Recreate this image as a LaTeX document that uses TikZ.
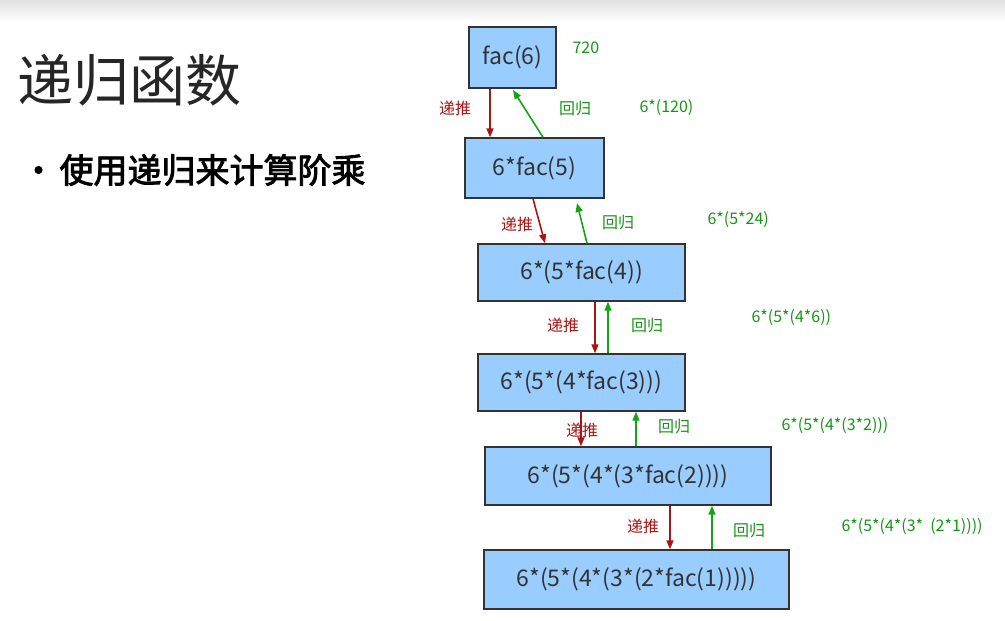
\documentclass[tikz,border=0pt]{standalone}
\usepackage{fontspec}
\usetikzlibrary{arrows.meta}
\setmainfont{Noto Sans CJK SC}
\newfontfamily\cjkb[FakeBold=2.5]{Noto Sans CJK SC}
\begin{document}
\begin{tikzpicture}[x=1pt,y=-1pt,
  bx/.style={draw=black!80,line width=1.4pt,fill={rgb,255:red,153;green,204;blue,255},minimum height=58pt,inner sep=0pt,text=black!80,font=\fontsize{23}{23}\selectfont},
  dn/.style={draw={rgb,255:red,170;green,20;blue,20},line width=1.6pt,-{Triangle[length=9pt,width=7pt]}},
  up/.style={draw={rgb,255:red,20;green,165;blue,20},line width=1.6pt,-{Triangle[length=9pt,width=7pt]}},
  rl/.style={text={rgb,255:red,170;green,20;blue,20},font=\fontsize{16}{16}\selectfont},
  gl/.style={text={rgb,255:red,20;green,150;blue,20},font=\fontsize{16}{16}\selectfont}]
\useasboundingbox (0,0) rectangle (1005,621);
\shade[top color=black!12,bottom color=white] (0,0) rectangle (1005,22);
\node[anchor=west,font=\fontsize{56}{56}\selectfont,text=black!85] (title) at (14,80) {递归函数};
\node[anchor=west,font=\fontsize{34}{34}\selectfont] (bul) at (18,170) {\cjkb •\hspace{4pt}使用递归来计算阶乘};
\node[bx,minimum width=87pt,minimum height=61pt] (b1) at (512.5,57.5) {fac(6)};
\node[bx,minimum width=139pt,minimum height=60pt] (b2) at (534.5,168) {6*fac(5)};
\node[bx,minimum width=207pt,minimum height=57pt] (b3) at (581.5,272.5) {6*(5*fac(4))};
\node[bx,minimum width=207pt,minimum height=57pt] (b4) at (581.5,382.5) {6*(5*(4*fac(3)))};
\node[bx,minimum width=286pt,minimum height=58pt] (b5) at (628,476) {6*(5*(4*(3*fac(2))))};
\node[bx,minimum width=305pt,minimum height=59pt] (b6) at (636.5,579.5) {6*(5*(4*(3*(2*fac(1)))))};
\draw[dn] (b1.south -| 490,0) -- (b2.north -| 490,0);
\draw[up] (b2.north -| 543,0) -- (513,90);
\draw[dn] (b2.south -| 533,0) -- (b3.north -| 545,0);
\draw[up] (b3.north -| 587,0) -- (577,203);
\draw[dn] (b3.south -| 595,0) -- (b4.north -| 595,0);
\draw[up] (b4.north -| 608,0) -- (b3.south -| 608,0);
\draw[dn] (b4.south -| 581,0) -- (b5.north -| 581,0);
\draw[up] (b5.north -| 636,0) -- (b4.south -| 636,0);
\draw[dn] (b5.south -| 670,0) -- (b6.north -| 670,0);
\draw[up] (b6.north -| 712,0) -- (b5.south -| 712,0);
\node[rl] (r1) at (455,108) {递推};
\node[rl] (r2) at (517,224) {递推};
\node[rl] (r3) at (563,325) {递推};
\node[rl] (r4) at (582,430) {递推};
\node[rl] (r5) at (643,526) {递推};
\node[gl] (g1) at (575,108) {回归};
\node[gl] (g2) at (618,222) {回归};
\node[gl] (g3) at (647,325) {回归};
\node[gl] (g4) at (674,426) {回归};
\node[gl] (g5) at (749,530) {回归};
\node[gl,anchor=west] (v0) at (569,48) {720};
\node[gl,anchor=west] (v1) at (636,108) {6*(120)};
\node[gl,anchor=west] (v2) at (704,220) {6*(5*24)};
\node[gl,anchor=west] (v3) at (748,318) {6*(5*(4*6))};
\node[gl,anchor=west] (v4) at (778,426) {6*(5*(4*(3*2)))};
\node[gl,anchor=west] (v5) at (838,527) {6*(5*(4*(3*\ \ (2*1))))};
\end{tikzpicture}
\end{document}
